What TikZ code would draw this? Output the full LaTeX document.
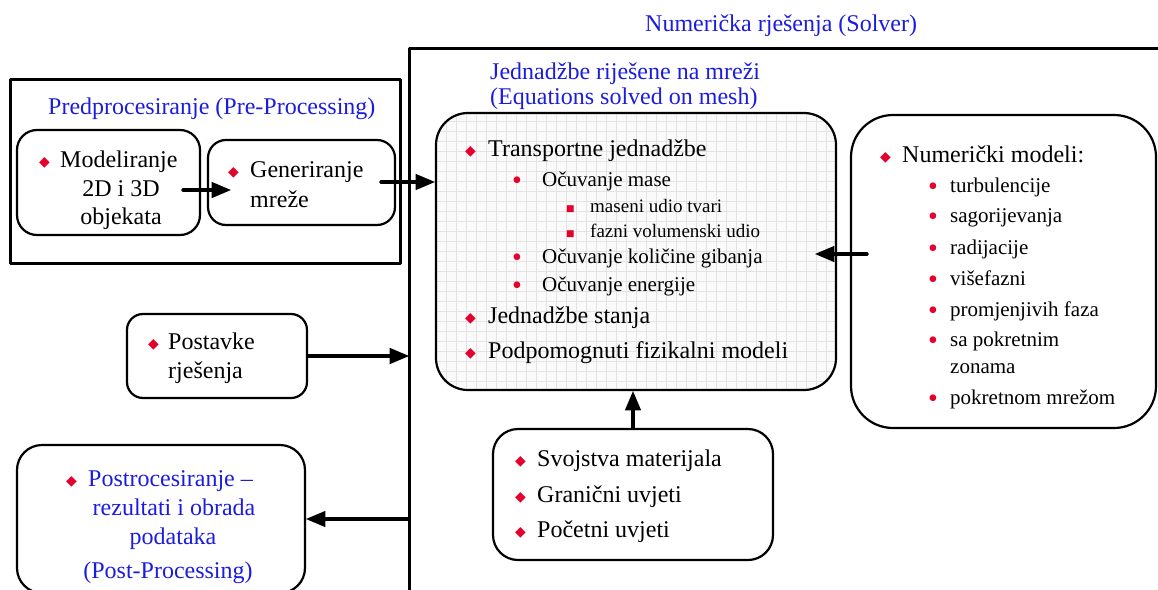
\documentclass[tikz,border=0pt]{standalone}
\usepackage{fontspec}
\setmainfont{Liberation Serif}
\newfontfamily\symfont{DejaVu Sans}
\usetikzlibrary{arrows}
\usetikzlibrary{positioning}
\definecolor{ttlblue}{RGB}{28,28,222}
\definecolor{bulred}{RGB}{228,0,45}
% bullets with fixed width before the text
\newcommand{\dia}[1]{\makebox[#1][l]{\raisebox{1pt}{\color{bulred}\symfont\fontsize{14}{14}\selectfont ◆}}}
\newcommand{\bul}[1]{\makebox[#1][l]{\raisebox{-3.5pt}{\color{bulred}\fontsize{28}{28}\selectfont •}}}
\newcommand{\sqb}[1]{\makebox[#1][l]{\raisebox{0.5pt}{\color{bulred}\symfont\fontsize{9}{9}\selectfont ■}}}

\begin{document}
\begin{tikzpicture}[line cap=round,line join=round,>=triangle 45,x=1pt,y=-1pt,
  box/.style={draw,line width=2.2pt,inner sep=0pt},
  arr/.style={->,line width=3.6pt},
  big/.style={anchor=mid west,inner sep=0pt,yshift=-5.5pt,font=\fontsize{24}{28}\selectfont},
  mid/.style={anchor=mid west,inner sep=0pt,yshift=-5pt,font=\fontsize{21}{25}\selectfont},
  sml/.style={anchor=mid west,inner sep=0pt,yshift=-5pt,font=\fontsize{19}{23}\selectfont}]
\useasboundingbox (0,0) rectangle (1158,589);
% solver frame
\coordinate (fr) at (409,48);
\draw[line width=3pt,line cap=butt] (1160,48) -- (fr) -- (409,592);
\node[big,text=ttlblue] (solver) at (645,24) {Numerička rješenja (Solver)};
% pre-processing
\node[box,line width=3pt,minimum width=390pt,minimum height=184pt] (pre) at (205,171) {};
\node[big,text=ttlblue] (pretxt) at (48,107) {Predprocesiranje (Pre-Processing)};
\node[box,rounded corners=20pt,minimum width=183pt,minimum height=105pt] (mod) at (108.5,182.5) {};
\node[big] (mod1) at (39,160) {\dia{21pt}Modeliranje};
\node[big,anchor=mid] (mod2) at (121,189) {2D i 3D};
\node[big,anchor=mid] (mod3) at (121,217) {objekata};
\node[box,rounded corners=18pt,minimum width=187pt,minimum height=85pt] (gen) at (301.5,182.5) {};
\node[big] (gen1) at (228,170) {\dia{22pt}Generiranje};
\node[big] (gen2) at (250,200) {mreže};
% settings and post-processing
\node[box,rounded corners=16pt,minimum width=180pt,minimum height=84pt] (set) at (217,356) {};
\node[big] (set1) at (148,342) {\dia{20pt}Postavke};
\node[big] (set2) at (168,371) {rješenja};
\node[box,rounded corners=25pt,minimum width=288pt,minimum height=148pt] (post) at (161,519) {};
\node[big,text=ttlblue] (post1) at (66,479) {\dia{22pt}Postrocesiranje --};
\node[big,anchor=mid,text=ttlblue] (post2) at (174,508) {rezultati i obrada};
\node[big,anchor=mid,text=ttlblue] (post3) at (173,537) {podataka};
\node[big,anchor=mid,text=ttlblue] (post4) at (168,571) {(Post-Processing)};
% equations on mesh
\node[big,text=ttlblue] (meshtxt1) at (490,72) {Jednadžbe riješene na mreži};
\node[big,text=ttlblue] (meshtxt2) at (490,97) {(Equations solved on mesh)};
\node[box,rounded corners=32pt,minimum width=400pt,minimum height=277pt,fill=gray!4,
  path picture={\draw[gray!22,line width=0.5pt,step=10pt] (path picture bounding box.south west) grid (path picture bounding box.north east);}]
  (mesh) at (636,251.5) {};
\foreach \y/\txt/\nm in {149/Transportne jednadžbe/e1,316/Jednadžbe stanja/e7,351/Podpomognuti fizikalni modeli/e8}
  \node[big] (\nm) at (465,\y) {\dia{23pt}\txt};
\foreach \y/\txt/\nm in {179/Očuvanje mase/e2,256/Očuvanje količine gibanja/e5,284/Očuvanje energije/e6}
  \node[mid] (\nm) at (512,\y) {\bul{30pt}\txt};
\foreach \y/\txt/\nm in {205/maseni udio tvari/e3,230/fazni volumenski udio/e4}
  \node[sml] (\nm) at (566,\y) {\sqb{24pt}\txt};
% numerical models
\node[box,rounded corners=42pt,minimum width=305pt,minimum height=313pt] (num) at (1003.5,271.5) {};
\node[big] (num0) at (880,155) {\dia{22pt}Numerički modeli:};
\foreach \y/\txt/\nm in {185/turbulencije/n1,215/sagorijevanja/n2,247/radijacije/n3,278/višefazni/n4,309/promjenjivih faza/n5,339/sa pokretnim/n6,397/pokretnom mrežom/n8}
  \node[mid] (\nm) at (928,\y) {\bul{22pt}\txt};
\node[mid] (n7) at (950,366) {zonama};
% material and conditions
\node[box,rounded corners=25pt,minimum width=280pt,minimum height=131pt] (mat) at (633,494.5) {};
\foreach \y/\txt/\nm in {459/Svojstva materijala/m1,495/Granični uvjeti/m2,530/Početni uvjeti/m3}
  \node[big] (\nm) at (515,\y) {\dia{22pt}\txt};
% connectors
\draw[arr] ([shift={(-18pt,-7.5pt)}]mod.east) -- ([shift={(24pt,-7.5pt)}]gen.west);
\draw[arr] ([xshift=-15pt,yshift=0.5pt]gen.east) -- ([yshift=0.5pt]gen.east -| mesh.west);
\draw[arr] ([xshift=17pt,yshift=-2.5pt]num.west |- mesh.east) -- ([xshift=-22pt,yshift=-2.5pt]mesh.east);
\draw[arr] (mat.north) -- (mat.north |- mesh.south);
\draw[arr] (set.east) -- (set.east -| fr);
\draw[arr] (post.east -| fr) -- (post.east);
\end{tikzpicture}
\end{document}
